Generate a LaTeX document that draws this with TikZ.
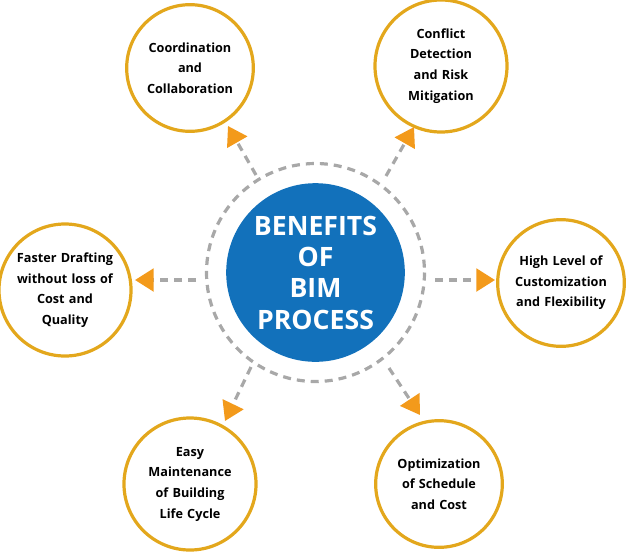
\documentclass[tikz,border=0pt]{standalone}
\usepackage{fontspec}
\setmainfont{Open Sans}
\usetikzlibrary{arrows.meta}
\definecolor{gold}{HTML}{E3A71C}
\definecolor{org}{HTML}{F39A1B}
\definecolor{blu}{HTML}{1271BB}
\definecolor{gry}{HTML}{A8A8A8}
\begin{document}
\begin{tikzpicture}[x=0.75pt,y=-0.75pt,
  ben/.style={circle,draw=gold,line width=2.4pt,minimum size=95pt,inner sep=0pt,align=center,font=\bfseries\fontsize{9.5}{15.5}\selectfont,text width=82pt},
  con/.style={draw=gry,line width=2.4pt,dash pattern=on 6pt off 4.5pt,-{Triangle[length=14pt,width=17pt,color=org,fill=org]}}]
\useasboundingbox (0,0) rectangle (628,551);
\draw[gry,line width=2.4pt,dash pattern=on 6pt off 4.5pt] (315.5,272.5) circle (109);
\node[circle,fill=blu,minimum size=134pt,inner sep=0pt,text=white,align=center,font=\bfseries\fontsize{20}{23.5}\selectfont] (c) at (315.5,272.5) {BENEFITS\\OF\\BIM\\PROCESS};
\node[ben] (a) at (190,68) {Coordination\\and\\Collaboration};
\node[ben] (b) at (441,66) {Conflict\\Detection\\and Risk\\Mitigation};
\node[ben] (l) at (65,290) {Faster Drafting\\without loss of\\Cost and\\Quality};
\node[ben] (r) at (561,283) {High Level of\\Customization\\and Flexibility};
\node[ben] (d) at (190,484) {Easy\\Maintenance\\of Building\\Life Cycle};
\node[ben] (e) at (439,484) {Optimization\\of Schedule\\and Cost};
\coordinate (a0) at (256,175); \coordinate (a1) at (228,126);
\coordinate (b0) at (386,176); \coordinate (b1) at (414,127);
\coordinate (l0) at (196,280); \coordinate (l1) at (135,280);
\coordinate (r0) at (435,280); \coordinate (r1) at (495,280);
\coordinate (d0) at (251,367); \coordinate (d1) at (225,421);
\coordinate (e0) at (389,368); \coordinate (e1) at (420,415);
\foreach \k in {a,b,l,r,d,e} \draw[con] (\k0) -- (\k1);
\end{tikzpicture}
\end{document}
